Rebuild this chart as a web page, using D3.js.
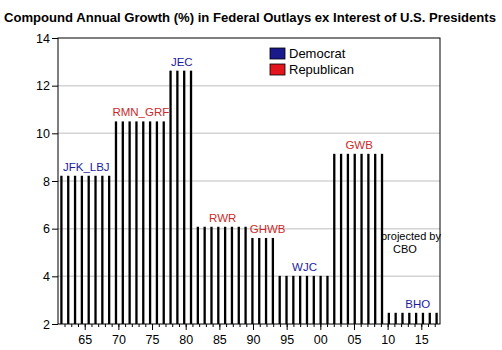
<!DOCTYPE html>
<html>
<head>
<meta charset="utf-8">
<script src="https://cdn.jsdelivr.net/npm/d3@7/dist/d3.min.js"></script>
<style>
  body { margin: 0; background: #fff; }
  svg { display: block; font-family: "Liberation Sans", Arial, sans-serif; }
</style>
</head>
<body>
<div id="chart"></div>
<script>
// presidents (fiscal-year terms) and compound annual growth of outlays ex interest
const presidents = ['JFK_LBJ', 'RMN_GRF', 'JEC', 'RWR', 'GHWB', 'WJC', 'GWB', 'BHO']
const parties = ['Democrat', 'Republican', 'Democrat', 'Republican', 'Republican', 'Democrat', 'Republican', 'Democrat']
const growth = [8.22, 10.5, 12.63, 6.08, 5.61, 4.02, 9.14, 2.47]
const firstYear = [1962, 1970, 1978, 1982, 1990, 1994, 2002, 2010]
const lastYear = [1969, 1977, 1981, 1989, 1993, 2001, 2009, 2017]
const yTicks = [2, 4, 6, 8, 10, 12, 14]
const gridTicks = [4, 6, 8, 10, 12]
const legendItems = ['Democrat', 'Republican']

const width = 502
const height = 350
const margin = {top: 38, right: 62, bottom: 26, left: 58}
const partyColor = {Democrat: '#1a1a8c', Republican: '#e3161e'}
const labelColor = {Democrat: '#1c1c9c', Republican: '#cc2a2a'}
//small shifts so labels clear the neighbouring bars
const labelNudge = {GHWB: 4, BHO: 4}

// one bar per year
const bars = []
presidents.forEach((p, i) => {
  for (let yr = firstYear[i]; yr <= lastYear[i]; yr++) {
    bars.push({year: yr, value: growth[i], president: p})
  }
})

const svg = d3.select('#chart')
  .append('svg')
  .attr('width', width)
  .attr('height', height)

const x = d3.scaleBand()
  .domain(d3.range(firstYear[0], lastYear[lastYear.length - 1] + 1))
  .range([margin.left, width - margin.right])
  .padding(0)

// axis scale for the year ticks
const xAxisScale = d3.scaleLinear()
  .domain([1961.03, 2017.78])
  .range([margin.left, width - margin.right])

const y = d3.scaleLinear()
  .domain([2, 14])
  .range([height - margin.bottom, margin.top])

// title
svg.append('text')
  .attr('x', 4)
  .attr('y', 22)
  .attr('textLength', 492)
  .attr('lengthAdjust', 'spacingAndGlyphs')
  .style('font-size', '13px')
  .style('font-weight', 'bold')
  .text('Compound Annual Growth (%) in Federal Outlays ex Interest of U.S. Presidents')

//gridlines
svg.append('g')
  .selectAll('line')
  .data(gridTicks)
  .enter()
  .append('line')
  .attr('x1', margin.left)
  .attr('x2', width - margin.right)
  .attr('y1', d => y(d))
  .attr('y2', d => y(d))
  .attr('stroke', '#d4d4d4')
  .attr('stroke-width', 1.5)

//bars
const barW = 2.3
svg.append('g')
  .selectAll('rect')
  .data(bars)
  .enter()
  .append('rect')
  .attr('x', d => x(d.year) + x.bandwidth() / 2 - barW / 2)
  .attr('y', d => y(d.value))
  .attr('width', barW)
  .attr('height', d => y(2) - y(d.value))
  .attr('fill', '#000')

//frame
svg.append('rect')
  .attr('x', margin.left)
  .attr('y', margin.top)
  .attr('width', width - margin.left - margin.right)
  .attr('height', height - margin.top - margin.bottom)
  .attr('fill', 'none')
  .attr('stroke', '#000')
  .attr('stroke-width', 1)

//y axis
const yAxis = svg.append('g')
  .attr('transform', `translate(${margin.left},0)`)
  .call(d3.axisLeft(y).tickValues(yTicks).tickSize(6).tickPadding(2))
yAxis.select('.domain').remove()
yAxis.selectAll('text').style('font-size', '12.5px').attr('fill', '#000')

//x axis, minor ticks each year
const minorYears = d3.range(1962, 2018)
const xAxisG = svg.append('g')
  .attr('transform', `translate(0,${height - margin.bottom})`)
xAxisG.call(d3.axisBottom(xAxisScale).tickValues(minorYears).tickSize(3).tickFormat(''))
xAxisG.select('.domain').remove()
const xMajor = svg.append('g')
  .attr('transform', `translate(0,${height - margin.bottom})`)
  .call(d3.axisBottom(xAxisScale)
    .tickValues(minorYears.filter(d => d % 5 === 0))
    .tickSize(6)
    .tickPadding(5)
    .tickFormat(d => String(d).slice(2)))
xMajor.select('.domain').remove()
xMajor.selectAll('text').style('font-size', '12.5px').attr('fill', '#000')

//president labels
svg.append('g')
  .selectAll('text')
  .data(presidents)
  .enter()
  .append('text')
  .attr('x', (d, i) => (x(firstYear[i]) + x(lastYear[i]) + x.bandwidth()) / 2 + 1 + (labelNudge[d] || 0))
  .attr('y', (d, i) => y(growth[i]) - 5)
  .attr('text-anchor', 'middle')
  .attr('fill', (d, i) => labelColor[parties[i]])
  .style('font-size', '11.5px')
  .text(d => d)

// projection note
svg.append('text')
  .attr('x', 381)
  .attr('y', 240)
  .style('font-size', '11px')
  .text('projected by')
svg.append('text')
  .attr('x', 405)
  .attr('y', 253)
  .attr('text-anchor', 'middle')
  .style('font-size', '11px')
  .text('CBO')

//legend
const legend = svg.append('g')
  .selectAll('g')
  .data(legendItems)
  .enter()
  .append('g')
  .attr('transform', (d, i) => `translate(270,${48 + i * 16})`)
legend.append('rect')
  .attr('width', 15)
  .attr('height', 11)
  .attr('fill', d => partyColor[d])
  .attr('stroke', '#000')
  .attr('stroke-width', 0.8)
legend.append('text')
  .attr('x', 19)
  .attr('y', 10)
  .style('font-size', '13px')
  .text(d => d)
</script>
</body>
</html>
